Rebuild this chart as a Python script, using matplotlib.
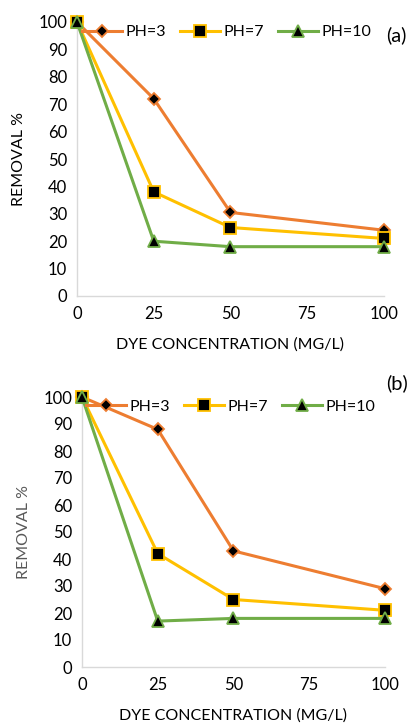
import numpy as np
import matplotlib
matplotlib.use('Agg')
import matplotlib.pyplot as plt

plt.rcParams['font.family'] = ['Lato', 'DejaVu Sans']

conc = [0, 25, 50, 100]
labels = ["PH=3", "PH=7", "PH=10"]

# panel (a)
removal_a = {
    "PH=3": [100, 72, 30.5, 24],
    "PH=7": [100, 38, 25, 21],
    "PH=10": [100, 20, 18, 18],
}
# panel (b)
removal_b = {
    "PH=3": [100, 88, 43, 29],
    "PH=7": [100, 42, 25, 21],
    "PH=10": [100, 17, 18, 18],
}

x_ticks = [0, 25, 50, 75, 100]
y_ticks = [0, 10, 20, 30, 40, 50, 60, 70, 80, 90, 100]

colors = ["#ED7D31", "#FFC000", "#70AD47"]
markers = ["D", "s", "^"]
msizes = [6.5, 8.5, 8.5]

W, H = 414, 726


def px_axes(fig, left, right, top, bottom):
    return fig.add_axes([left / W, 1 - bottom / H, (right - left) / W, (bottom - top) / H])


def draw_panel(ax, data, ylabel_color):
    for i, name in enumerate(labels):
        ax.plot(conc, data[name], color=colors[i], lw=2.2, marker=markers[i],
                ms=msizes[i], mfc="black", mec=colors[i], mew=1.3,
                label=name, clip_on=False, zorder=3)
    ax.set_xlim(0, 100)
    ax.set_ylim(0, 100)
    ax.set_xticks(x_ticks)
    ax.set_yticks(y_ticks)
    ax.tick_params(length=0, labelsize=12, colors="#000000", pad=7)
    for s in ["top", "right"]:
        ax.spines[s].set_visible(False)
    for s in ["left", "bottom"]:
        ax.spines[s].set_color("#d9d9d9")
        ax.spines[s].set_linewidth(1)
    ax.set_xlabel("DYE CONCENTRATION (MG/L)", fontsize=11.5, labelpad=11)
    ax.set_ylabel("REMOVAL %", fontsize=11.5, color=ylabel_color, labelpad=9)


def add_legend(ax, x, y):
    ax.legend(loc="center left", bbox_to_anchor=(x / W, 1 - y / H), bbox_transform=fig.transFigure,
              ncol=3, frameon=False, fontsize=11.5, handlelength=2.5, handletextpad=0.2,
              columnspacing=0.9, borderpad=0, borderaxespad=0)


fig = plt.figure(figsize=(W / 100, H / 100), dpi=100)

ax1 = px_axes(fig, 77, 384, 22, 296)
draw_panel(ax1, removal_a, "#000000")
add_legend(ax1, 82, 32)
fig.text(386 / W, 1 - 35 / H, "(a)", fontsize=14.5, va="center", ha="left")

ax2 = px_axes(fig, 82, 385, 397, 667)
draw_panel(ax2, removal_b, "#595959")
add_legend(ax2, 86, 407)
fig.text(386 / W, 1 - 383 / H, "(b)", fontsize=14.5, va="center", ha="left")

fig.savefig("out.png", dpi=100)
